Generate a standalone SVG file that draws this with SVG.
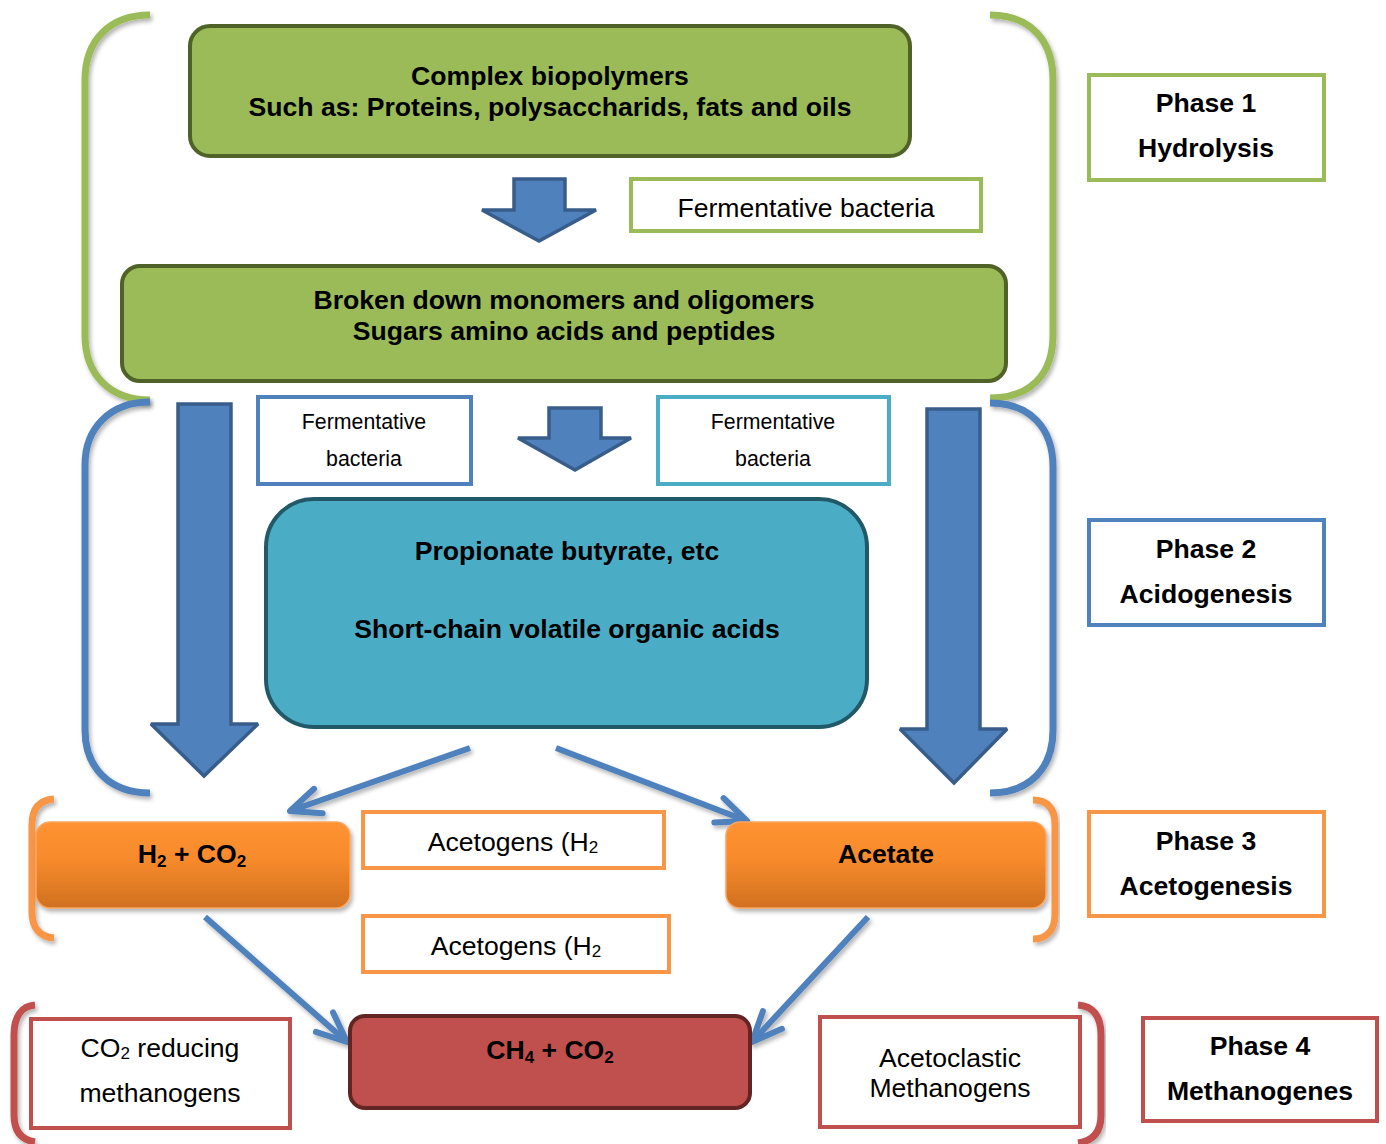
<svg xmlns="http://www.w3.org/2000/svg" width="1386" height="1144" viewBox="0 0 1386 1144">
<defs>
<style>
.t{font-family:"Liberation Sans",Arial,sans-serif;font-size:26.6px;fill:#000;text-anchor:middle}
.b{font-weight:bold}
.s21{font-size:21.3px}
.br{fill:none;stroke-width:7;stroke-linecap:butt;filter:url(#sh)}
.lbl{fill:#fff;stroke-width:4}
.blk{fill:#4F81BD;stroke:#385D8A;stroke-width:3.5;stroke-linejoin:miter;stroke-miterlimit:2.5}
.ln{fill:none;stroke:#4F81BD;stroke-width:6;marker-end:url(#ah);filter:url(#sh)}
</style>
<filter id="sh" x="-20%" y="-20%" width="140%" height="140%">
<feDropShadow dx="2" dy="3" stdDeviation="2" flood-color="#000" flood-opacity="0.3"/>
</filter>
<linearGradient id="og" x1="0" y1="0" x2="0" y2="1">
<stop offset="0" stop-color="#FF9331"/>
<stop offset="0.45" stop-color="#F68A2C"/>
<stop offset="1" stop-color="#D0701F"/>
</linearGradient>
<marker id="ah" markerUnits="userSpaceOnUse" markerWidth="50" markerHeight="50" viewBox="-40 -25 50 50" refX="0" refY="0" orient="auto" overflow="visible">
<path d="M-30,-13 L0,0 L-30,13" fill="none" stroke="#4F81BD" stroke-width="6" stroke-linecap="round" stroke-linejoin="round"/>
</marker>
</defs>
<rect width="1386" height="1144" fill="#fff"/>

<g id="brackets">
<path class="br" stroke="#9BBB59" d="M150,15 C110,15 85,40 85,80 L85,335 C85,375 110,400 150,400"/>
<path class="br" stroke="#9BBB59" d="M990,15 C1030,15 1053,40 1053,80 L1053,335 C1053,375 1030,398 990,398"/>
<path class="br" stroke="#4F81BD" d="M150,402 C110,402 85,428 85,465 L85,730 C85,768 110,793 150,793"/>
<path class="br" stroke="#4F81BD" d="M990,403 C1030,403 1053,428 1053,467 L1053,730 C1053,768 1030,793 990,793"/>
<path class="br" stroke="#F79646" d="M54,799 C40,800 32,808 32,825 L32,912 C32,928 40,937 54,938"/>
<path class="br" stroke="#F79646" d="M1033,800 C1047,800 1055,808 1055,825 L1055,914 C1055,930 1047,939 1033,939"/>
<path class="br" stroke="#C0504D" d="M35,1005 C22,1006 14,1016 14,1035 L14,1115 C14,1132 22,1140 35,1142"/>
<path class="br" stroke="#C0504D" d="M1078,1005 C1093,1006 1101,1016 1101,1035 L1101,1115 C1101,1132 1093,1141 1078,1143"/>
</g>

<g id="connectors">
<polygon class="blk" points="514,179 565,179 565,210 596,210 539,241 482,210 514,210"/>
<polygon class="blk" points="549,408 601,408 601,438 631,438 575,470 518,438 549,438"/>
<polygon class="blk" points="178,404 231,404 231,724 258,724 204,776 151,724 178,724"/>
<polygon class="blk" points="927,409 980,409 980,729 1007,729 954,783 900,729 927,729"/>
<path class="ln" d="M470,748 L290,811"/>
<path class="ln" d="M556,748 L747,821"/>
<path class="ln" d="M205,917 L347,1042"/>
<path class="ln" d="M868,917 L752,1042"/>
</g>

<g id="complex">
<rect x="190" y="26" width="720" height="130" rx="20" fill="#9BBB59" stroke="#4F6228" stroke-width="4"/>
<text class="t b" x="550" y="85">Complex biopolymers</text>
<text class="t b" x="550" y="116">Such as: Proteins, polysaccharids, fats and oils</text>
</g>

<g id="ferm1">
<rect class="lbl" x="631" y="179" width="350" height="52" stroke="#9BBB59"/>
<text class="t" x="806" y="217">Fermentative bacteria</text>
</g>

<g id="monomers">
<rect x="122" y="266" width="884" height="115" rx="18" fill="#9BBB59" stroke="#4F6228" stroke-width="4"/>
<text class="t b" x="564" y="309">Broken down monomers and oligomers</text>
<text class="t b" x="564" y="340">Sugars amino acids and peptides</text>
</g>

<g id="ferm2">
<rect class="lbl" x="258" y="397" width="213" height="87" stroke="#4F81BD"/>
<text class="t s21" x="364" y="429">Fermentative</text>
<text class="t s21" x="364" y="466">bacteria</text>
</g>

<g id="ferm3">
<rect class="lbl" x="658" y="397" width="231" height="87" stroke="#4BACC6"/>
<text class="t s21" x="773" y="429">Fermentative</text>
<text class="t s21" x="773" y="466">bacteria</text>
</g>

<g id="acids">
<rect x="266" y="499" width="601" height="228" rx="48" fill="#4BACC6" stroke="#215968" stroke-width="4"/>
<text class="t b" x="567" y="560">Propionate butyrate, etc</text>
<text class="t b" x="567" y="638">Short-chain volatile organic acids</text>
</g>

<g id="h2co2">
<rect x="36" y="822" width="314" height="86" rx="14" fill="url(#og)" stroke="#F9A560" stroke-width="1.5" filter="url(#sh)"/>
<text class="t b" x="192" y="863">H<tspan font-size="17" dy="4">2</tspan><tspan dy="-4"> + CO</tspan><tspan font-size="17" dy="4">2</tspan></text>
</g>

<g id="acetate">
<rect x="726" y="822" width="320" height="86" rx="14" fill="url(#og)" stroke="#F9A560" stroke-width="1.5" filter="url(#sh)"/>
<text class="t b" x="886" y="863">Acetate</text>
</g>

<g id="acetogens1">
<rect class="lbl" x="363" y="812" width="301" height="56" stroke="#F79646"/>
<text class="t" x="513" y="851">Acetogens (H<tspan font-size="17" dy="2">2</tspan></text>
</g>

<g id="acetogens2">
<rect class="lbl" x="363" y="916" width="306" height="56" stroke="#F79646"/>
<text class="t" x="516" y="955">Acetogens (H<tspan font-size="17" dy="2">2</tspan></text>
</g>

<g id="ch4co2">
<rect x="350" y="1016" width="400" height="92" rx="15" fill="#C0504D" stroke="#632523" stroke-width="4"/>
<text class="t b" x="550" y="1059">CH<tspan font-size="17" dy="4">4</tspan><tspan dy="-4"> + CO</tspan><tspan font-size="17" dy="4">2</tspan></text>
</g>

<g id="co2red">
<rect class="lbl" x="31" y="1019" width="259" height="109" stroke="#C0504D"/>
<text class="t" x="160" y="1057">CO<tspan font-size="17" dy="2">2</tspan><tspan dy="-2"> reducing</tspan></text>
<text class="t" x="160" y="1102">methanogens</text>
</g>

<g id="acetoclastic">
<rect class="lbl" x="820" y="1017" width="260" height="110" stroke="#C0504D"/>
<text class="t" x="950" y="1067">Acetoclastic</text>
<text class="t" x="950" y="1097">Methanogens</text>
</g>

<g id="phase1">
<rect class="lbl" x="1089" y="75" width="235" height="105" stroke="#9BBB59"/>
<text class="t b" x="1206" y="112">Phase 1</text>
<text class="t b" x="1206" y="157">Hydrolysis</text>
</g>

<g id="phase2">
<rect class="lbl" x="1089" y="520" width="235" height="105" stroke="#4F81BD"/>
<text class="t b" x="1206" y="558">Phase 2</text>
<text class="t b" x="1206" y="603">Acidogenesis</text>
</g>

<g id="phase3">
<rect class="lbl" x="1089" y="812" width="235" height="104" stroke="#F79646"/>
<text class="t b" x="1206" y="850">Phase 3</text>
<text class="t b" x="1206" y="895">Acetogenesis</text>
</g>

<g id="phase4">
<rect class="lbl" x="1143" y="1018" width="234" height="103" stroke="#C0504D"/>
<text class="t b" x="1260" y="1055">Phase 4</text>
<text class="t b" x="1260" y="1100">Methanogenes</text>
</g>
</svg>
